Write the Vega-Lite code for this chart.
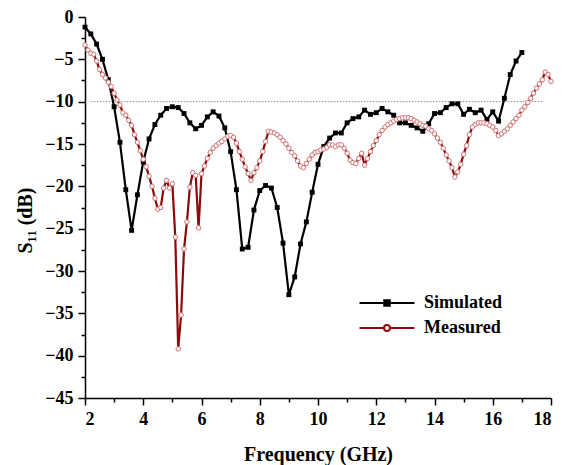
{
  "$schema": "https://vega.github.io/schema/vega-lite/v6.json",
  "width": 466,
  "height": 381,
  "autosize": {"type": "none"},
  "padding": {"left": 85, "top": 17, "right": 12, "bottom": 67},
  "background": "white",
  "config": {
    "view": {"stroke": null},
    "font": "Liberation Serif",
    "axis": {"grid": false, "domainColor": "black", "tickColor": "black", "domainWidth": 1.5, "tickWidth": 1.5, "labelFont": "Liberation Serif", "labelFontWeight": "bold", "labelColor": "black", "labelFontSize": 18, "titleFont": "Liberation Serif", "titleFontWeight": "bold", "titleColor": "black", "titleFontSize": 20}
  },
  "datasets": {
    "s11": [
      {"f": 2.0, "s11": -1.2, "series": "Simulated"},
      {"f": 2.2, "s11": -2.0, "series": "Simulated"},
      {"f": 2.4, "s11": -3.2, "series": "Simulated"},
      {"f": 2.6, "s11": -5.0, "series": "Simulated"},
      {"f": 2.8, "s11": -7.4, "series": "Simulated"},
      {"f": 3.0, "s11": -10.6, "series": "Simulated"},
      {"f": 3.2, "s11": -14.8, "series": "Simulated"},
      {"f": 3.4, "s11": -20.4, "series": "Simulated"},
      {"f": 3.6, "s11": -25.2, "series": "Simulated"},
      {"f": 3.8, "s11": -21.0, "series": "Simulated"},
      {"f": 4.0, "s11": -17.1, "series": "Simulated"},
      {"f": 4.2, "s11": -14.4, "series": "Simulated"},
      {"f": 4.4, "s11": -12.7, "series": "Simulated"},
      {"f": 4.6, "s11": -11.6, "series": "Simulated"},
      {"f": 4.8, "s11": -10.8, "series": "Simulated"},
      {"f": 5.0, "s11": -10.6, "series": "Simulated"},
      {"f": 5.2, "s11": -10.7, "series": "Simulated"},
      {"f": 5.4, "s11": -11.4, "series": "Simulated"},
      {"f": 5.6, "s11": -12.5, "series": "Simulated"},
      {"f": 5.8, "s11": -13.2, "series": "Simulated"},
      {"f": 6.0, "s11": -12.8, "series": "Simulated"},
      {"f": 6.2, "s11": -11.8, "series": "Simulated"},
      {"f": 6.4, "s11": -11.2, "series": "Simulated"},
      {"f": 6.6, "s11": -11.7, "series": "Simulated"},
      {"f": 6.8, "s11": -13.1, "series": "Simulated"},
      {"f": 7.0, "s11": -15.9, "series": "Simulated"},
      {"f": 7.2, "s11": -20.4, "series": "Simulated"},
      {"f": 7.4, "s11": -27.4, "series": "Simulated"},
      {"f": 7.6, "s11": -27.2, "series": "Simulated"},
      {"f": 7.8, "s11": -22.8, "series": "Simulated"},
      {"f": 8.0, "s11": -20.5, "series": "Simulated"},
      {"f": 8.2, "s11": -19.9, "series": "Simulated"},
      {"f": 8.4, "s11": -20.2, "series": "Simulated"},
      {"f": 8.6, "s11": -22.5, "series": "Simulated"},
      {"f": 8.8, "s11": -26.7, "series": "Simulated"},
      {"f": 9.0, "s11": -32.8, "series": "Simulated"},
      {"f": 9.2, "s11": -30.7, "series": "Simulated"},
      {"f": 9.4, "s11": -26.8, "series": "Simulated"},
      {"f": 9.6, "s11": -24.2, "series": "Simulated"},
      {"f": 9.8, "s11": -20.7, "series": "Simulated"},
      {"f": 10.0, "s11": -17.4, "series": "Simulated"},
      {"f": 10.2, "s11": -15.3, "series": "Simulated"},
      {"f": 10.4, "s11": -14.3, "series": "Simulated"},
      {"f": 10.6, "s11": -13.7, "series": "Simulated"},
      {"f": 10.8, "s11": -13.7, "series": "Simulated"},
      {"f": 11.0, "s11": -12.5, "series": "Simulated"},
      {"f": 11.2, "s11": -12.0, "series": "Simulated"},
      {"f": 11.4, "s11": -11.8, "series": "Simulated"},
      {"f": 11.6, "s11": -11.0, "series": "Simulated"},
      {"f": 11.8, "s11": -11.5, "series": "Simulated"},
      {"f": 12.0, "s11": -11.3, "series": "Simulated"},
      {"f": 12.2, "s11": -10.8, "series": "Simulated"},
      {"f": 12.4, "s11": -11.2, "series": "Simulated"},
      {"f": 12.6, "s11": -11.6, "series": "Simulated"},
      {"f": 12.8, "s11": -12.5, "series": "Simulated"},
      {"f": 13.0, "s11": -12.5, "series": "Simulated"},
      {"f": 13.2, "s11": -12.8, "series": "Simulated"},
      {"f": 13.4, "s11": -13.1, "series": "Simulated"},
      {"f": 13.6, "s11": -13.5, "series": "Simulated"},
      {"f": 13.8, "s11": -12.6, "series": "Simulated"},
      {"f": 14.0, "s11": -11.4, "series": "Simulated"},
      {"f": 14.2, "s11": -11.3, "series": "Simulated"},
      {"f": 14.4, "s11": -10.7, "series": "Simulated"},
      {"f": 14.6, "s11": -10.25, "series": "Simulated"},
      {"f": 14.8, "s11": -10.25, "series": "Simulated"},
      {"f": 15.0, "s11": -11.5, "series": "Simulated"},
      {"f": 15.2, "s11": -10.9, "series": "Simulated"},
      {"f": 15.4, "s11": -11.3, "series": "Simulated"},
      {"f": 15.6, "s11": -11.0, "series": "Simulated"},
      {"f": 15.8, "s11": -12.1, "series": "Simulated"},
      {"f": 16.0, "s11": -11.2, "series": "Simulated"},
      {"f": 16.2, "s11": -12.3, "series": "Simulated"},
      {"f": 16.4, "s11": -9.6, "series": "Simulated"},
      {"f": 16.6, "s11": -6.8, "series": "Simulated"},
      {"f": 16.8, "s11": -5.2, "series": "Simulated"},
      {"f": 17.0, "s11": -4.2, "series": "Simulated"},
      {"f": 2.0, "s11": -3.3, "series": "Measured"},
      {"f": 2.1, "s11": -3.9, "series": "Measured"},
      {"f": 2.2, "s11": -4.3, "series": "Measured"},
      {"f": 2.3, "s11": -4.4, "series": "Measured"},
      {"f": 2.4, "s11": -5.2, "series": "Measured"},
      {"f": 2.5, "s11": -6.2, "series": "Measured"},
      {"f": 2.6, "s11": -6.8, "series": "Measured"},
      {"f": 2.7, "s11": -7.2, "series": "Measured"},
      {"f": 2.8, "s11": -7.7, "series": "Measured"},
      {"f": 2.9, "s11": -8.2, "series": "Measured"},
      {"f": 3.0, "s11": -9.0, "series": "Measured"},
      {"f": 3.1, "s11": -9.8, "series": "Measured"},
      {"f": 3.2, "s11": -10.4, "series": "Measured"},
      {"f": 3.3, "s11": -11.3, "series": "Measured"},
      {"f": 3.4, "s11": -11.6, "series": "Measured"},
      {"f": 3.5, "s11": -12.2, "series": "Measured"},
      {"f": 3.6, "s11": -12.8, "series": "Measured"},
      {"f": 3.7, "s11": -13.9, "series": "Measured"},
      {"f": 3.8, "s11": -14.8, "series": "Measured"},
      {"f": 3.9, "s11": -15.8, "series": "Measured"},
      {"f": 4.0, "s11": -16.8, "series": "Measured"},
      {"f": 4.1, "s11": -17.7, "series": "Measured"},
      {"f": 4.2, "s11": -18.8, "series": "Measured"},
      {"f": 4.3, "s11": -20.0, "series": "Measured"},
      {"f": 4.4, "s11": -21.4, "series": "Measured"},
      {"f": 4.5, "s11": -22.7, "series": "Measured"},
      {"f": 4.6, "s11": -22.5, "series": "Measured"},
      {"f": 4.7, "s11": -20.2, "series": "Measured"},
      {"f": 4.8, "s11": -19.3, "series": "Measured"},
      {"f": 4.9, "s11": -20.2, "series": "Measured"},
      {"f": 5.0, "s11": -19.7, "series": "Measured"},
      {"f": 5.1, "s11": -26.0, "series": "Measured"},
      {"f": 5.2, "s11": -39.2, "series": "Measured"},
      {"f": 5.3, "s11": -35.2, "series": "Measured"},
      {"f": 5.4, "s11": -27.4, "series": "Measured"},
      {"f": 5.5, "s11": -24.2, "series": "Measured"},
      {"f": 5.6, "s11": -20.1, "series": "Measured"},
      {"f": 5.7, "s11": -18.4, "series": "Measured"},
      {"f": 5.8, "s11": -18.7, "series": "Measured"},
      {"f": 5.9, "s11": -24.9, "series": "Measured"},
      {"f": 6.0, "s11": -18.5, "series": "Measured"},
      {"f": 6.1, "s11": -17.6, "series": "Measured"},
      {"f": 6.2, "s11": -16.7, "series": "Measured"},
      {"f": 6.3, "s11": -16.0, "series": "Measured"},
      {"f": 6.4, "s11": -15.5, "series": "Measured"},
      {"f": 6.5, "s11": -15.2, "series": "Measured"},
      {"f": 6.6, "s11": -14.9, "series": "Measured"},
      {"f": 6.7, "s11": -14.7, "series": "Measured"},
      {"f": 6.8, "s11": -14.4, "series": "Measured"},
      {"f": 6.9, "s11": -14.1, "series": "Measured"},
      {"f": 7.0, "s11": -14.0, "series": "Measured"},
      {"f": 7.1, "s11": -14.2, "series": "Measured"},
      {"f": 7.2, "s11": -14.9, "series": "Measured"},
      {"f": 7.3, "s11": -15.9, "series": "Measured"},
      {"f": 7.4, "s11": -16.8, "series": "Measured"},
      {"f": 7.5, "s11": -17.7, "series": "Measured"},
      {"f": 7.6, "s11": -18.5, "series": "Measured"},
      {"f": 7.7, "s11": -19.3, "series": "Measured"},
      {"f": 7.8, "s11": -18.4, "series": "Measured"},
      {"f": 7.9, "s11": -17.8, "series": "Measured"},
      {"f": 8.0, "s11": -17.0, "series": "Measured"},
      {"f": 8.1, "s11": -15.9, "series": "Measured"},
      {"f": 8.2, "s11": -14.7, "series": "Measured"},
      {"f": 8.3, "s11": -13.5, "series": "Measured"},
      {"f": 8.4, "s11": -13.6, "series": "Measured"},
      {"f": 8.5, "s11": -13.7, "series": "Measured"},
      {"f": 8.6, "s11": -13.9, "series": "Measured"},
      {"f": 8.7, "s11": -14.2, "series": "Measured"},
      {"f": 8.8, "s11": -14.6, "series": "Measured"},
      {"f": 8.9, "s11": -15.0, "series": "Measured"},
      {"f": 9.0, "s11": -15.5, "series": "Measured"},
      {"f": 9.1, "s11": -16.0, "series": "Measured"},
      {"f": 9.2, "s11": -16.4, "series": "Measured"},
      {"f": 9.3, "s11": -17.0, "series": "Measured"},
      {"f": 9.4, "s11": -17.6, "series": "Measured"},
      {"f": 9.5, "s11": -17.8, "series": "Measured"},
      {"f": 9.6, "s11": -17.3, "series": "Measured"},
      {"f": 9.7, "s11": -16.8, "series": "Measured"},
      {"f": 9.8, "s11": -16.3, "series": "Measured"},
      {"f": 9.9, "s11": -16.0, "series": "Measured"},
      {"f": 10.0, "s11": -15.9, "series": "Measured"},
      {"f": 10.1, "s11": -15.7, "series": "Measured"},
      {"f": 10.2, "s11": -15.6, "series": "Measured"},
      {"f": 10.3, "s11": -15.4, "series": "Measured"},
      {"f": 10.4, "s11": -15.1, "series": "Measured"},
      {"f": 10.5, "s11": -15.1, "series": "Measured"},
      {"f": 10.6, "s11": -15.3, "series": "Measured"},
      {"f": 10.7, "s11": -15.1, "series": "Measured"},
      {"f": 10.8, "s11": -15.1, "series": "Measured"},
      {"f": 10.9, "s11": -15.5, "series": "Measured"},
      {"f": 11.0, "s11": -16.1, "series": "Measured"},
      {"f": 11.1, "s11": -16.9, "series": "Measured"},
      {"f": 11.2, "s11": -17.2, "series": "Measured"},
      {"f": 11.3, "s11": -17.3, "series": "Measured"},
      {"f": 11.4, "s11": -16.7, "series": "Measured"},
      {"f": 11.5, "s11": -16.1, "series": "Measured"},
      {"f": 11.6, "s11": -17.5, "series": "Measured"},
      {"f": 11.7, "s11": -16.7, "series": "Measured"},
      {"f": 11.8, "s11": -15.9, "series": "Measured"},
      {"f": 11.9, "s11": -15.2, "series": "Measured"},
      {"f": 12.0, "s11": -14.6, "series": "Measured"},
      {"f": 12.1, "s11": -13.9, "series": "Measured"},
      {"f": 12.2, "s11": -13.4, "series": "Measured"},
      {"f": 12.3, "s11": -13.0, "series": "Measured"},
      {"f": 12.4, "s11": -12.7, "series": "Measured"},
      {"f": 12.5, "s11": -12.5, "series": "Measured"},
      {"f": 12.6, "s11": -12.3, "series": "Measured"},
      {"f": 12.7, "s11": -12.1, "series": "Measured"},
      {"f": 12.8, "s11": -12.0, "series": "Measured"},
      {"f": 12.9, "s11": -11.9, "series": "Measured"},
      {"f": 13.0, "s11": -11.9, "series": "Measured"},
      {"f": 13.1, "s11": -11.9, "series": "Measured"},
      {"f": 13.2, "s11": -12.0, "series": "Measured"},
      {"f": 13.3, "s11": -12.2, "series": "Measured"},
      {"f": 13.4, "s11": -12.4, "series": "Measured"},
      {"f": 13.5, "s11": -12.6, "series": "Measured"},
      {"f": 13.6, "s11": -12.8, "series": "Measured"},
      {"f": 13.7, "s11": -12.9, "series": "Measured"},
      {"f": 13.8, "s11": -13.2, "series": "Measured"},
      {"f": 13.9, "s11": -13.4, "series": "Measured"},
      {"f": 14.0, "s11": -13.8, "series": "Measured"},
      {"f": 14.1, "s11": -14.3, "series": "Measured"},
      {"f": 14.2, "s11": -14.8, "series": "Measured"},
      {"f": 14.3, "s11": -15.5, "series": "Measured"},
      {"f": 14.4, "s11": -16.3, "series": "Measured"},
      {"f": 14.5, "s11": -17.0, "series": "Measured"},
      {"f": 14.6, "s11": -17.8, "series": "Measured"},
      {"f": 14.7, "s11": -18.9, "series": "Measured"},
      {"f": 14.8, "s11": -18.3, "series": "Measured"},
      {"f": 14.9, "s11": -17.4, "series": "Measured"},
      {"f": 15.0, "s11": -16.2, "series": "Measured"},
      {"f": 15.1, "s11": -15.2, "series": "Measured"},
      {"f": 15.2, "s11": -13.9, "series": "Measured"},
      {"f": 15.3, "s11": -13.0, "series": "Measured"},
      {"f": 15.4, "s11": -12.7, "series": "Measured"},
      {"f": 15.5, "s11": -12.5, "series": "Measured"},
      {"f": 15.6, "s11": -12.5, "series": "Measured"},
      {"f": 15.7, "s11": -12.5, "series": "Measured"},
      {"f": 15.8, "s11": -12.6, "series": "Measured"},
      {"f": 15.9, "s11": -12.8, "series": "Measured"},
      {"f": 16.0, "s11": -13.0, "series": "Measured"},
      {"f": 16.1, "s11": -13.4, "series": "Measured"},
      {"f": 16.2, "s11": -14.0, "series": "Measured"},
      {"f": 16.3, "s11": -13.8, "series": "Measured"},
      {"f": 16.4, "s11": -13.5, "series": "Measured"},
      {"f": 16.5, "s11": -13.2, "series": "Measured"},
      {"f": 16.6, "s11": -12.8, "series": "Measured"},
      {"f": 16.7, "s11": -12.4, "series": "Measured"},
      {"f": 16.8, "s11": -12.0, "series": "Measured"},
      {"f": 16.9, "s11": -11.6, "series": "Measured"},
      {"f": 17.0, "s11": -11.0, "series": "Measured"},
      {"f": 17.1, "s11": -10.6, "series": "Measured"},
      {"f": 17.2, "s11": -10.1, "series": "Measured"},
      {"f": 17.3, "s11": -9.6, "series": "Measured"},
      {"f": 17.4, "s11": -9.0, "series": "Measured"},
      {"f": 17.5, "s11": -8.4, "series": "Measured"},
      {"f": 17.6, "s11": -7.9, "series": "Measured"},
      {"f": 17.7, "s11": -7.4, "series": "Measured"},
      {"f": 17.8, "s11": -6.5, "series": "Measured"},
      {"f": 17.9, "s11": -6.8, "series": "Measured"},
      {"f": 18.0, "s11": -7.6, "series": "Measured"}
    ]
  },
  "resolve": {"axis": {"x": "independent", "y": "independent"}},
  "layer": [
    {
      "data": {"values": [{"f1": 2.2, "f2": 17.7, "level": -10}]},
      "mark": {"type": "rule", "color": "#888888", "strokeWidth": 1, "strokeDash": [1.5, 1.5]},
      "encoding": {
        "x": {"field": "f1", "type": "quantitative", "scale": {"domain": [2, 18], "nice": false},
          "axis": {"orient": "bottom", "values": [3, 5, 7, 9, 11, 13, 15, 17], "labels": false, "domain": false, "tickSize": 4, "title": null}},
        "x2": {"field": "f2"},
        "y": {"field": "level", "type": "quantitative", "scale": {"domain": [-45, 0], "nice": false},
          "axis": {"orient": "left", "values": [-2.5, -7.5, -12.5, -17.5, -22.5, -27.5, -32.5, -37.5, -42.5], "labels": false, "domain": false, "tickSize": 4, "title": null}}
      }
    },
    {
      "data": {"name": "s11"},
      "mark": {"type": "line", "strokeWidth": 2.2},
      "encoding": {
        "x": {"field": "f", "type": "quantitative", "scale": {"domain": [2, 18], "nice": false},
          "axis": {"orient": "bottom", "values": [2, 4, 6, 8, 10, 12, 14, 16, 18], "tickSize": 7, "labelPadding": 5, "title": "Frequency (GHz)", "titleY": 62, "titleBaseline": "alphabetic"}},
        "y": {"field": "s11", "type": "quantitative", "scale": {"domain": [-45, 0], "nice": false},
          "axis": {"orient": "left", "values": [0, -5, -10, -15, -20, -25, -30, -35, -40, -45], "tickSize": 7, "labelPadding": 5, "title": "S₁₁ (dB)", "titleX": -60, "titleY": 203, "titleAngle": -90, "titleAlign": "center", "titleBaseline": "middle"}},
        "color": {"field": "series", "type": "nominal",
          "scale": {"domain": ["Simulated", "Measured"], "range": ["#000000", "#8b0a0a"]},
          "legend": {"orient": "none", "legendX": 293, "legendY": 277, "title": null, "symbolSize": 100, "symbolStrokeWidth": 2, "labelFont": "Liberation Serif", "labelFontSize": 18, "labelFontWeight": "bold", "labelColor": "black", "labelOffset": 28, "rowPadding": 7,
            "encode": {"symbols": {"update": {
              "shape": {"signal": "datum.value === 'Simulated' ? 'M-5.5,0H5.5M-0.55,-0.55H0.55V0.55H-0.55Z' : 'M-5.5,0H-0.6M0.6,0H5.5M0.6,0A0.6,0.6 0 1,1 -0.6,0A0.6,0.6 0 1,1 0.6,0Z'"},
              "fill": {"signal": "datum.value === 'Simulated' ? 'black' : 'white'"},
              "stroke": {"signal": "datum.value === 'Simulated' ? 'black' : '#8b0a0a'"},
              "strokeWidth": {"value": 2}
            }}}}
        }
      }
    },
    {
      "data": {"name": "s11"},
      "transform": [{"filter": "datum.series === 'Simulated'"}],
      "mark": {"type": "point", "shape": "square", "filled": true, "color": "black", "size": 24, "opacity": 1},
      "encoding": {
        "x": {"field": "f", "type": "quantitative", "axis": null},
        "y": {"field": "s11", "type": "quantitative", "axis": null}
      }
    },
    {
      "data": {"name": "s11"},
      "transform": [{"filter": "datum.series === 'Measured'"}],
      "mark": {"type": "point", "shape": "circle", "filled": false, "fill": "white", "fillOpacity": 1, "stroke": "#d27070", "strokeWidth": 1, "size": 20, "opacity": 1},
      "encoding": {
        "x": {"field": "f", "type": "quantitative", "axis": null},
        "y": {"field": "s11", "type": "quantitative", "axis": null}
      }
    }
  ]
}
